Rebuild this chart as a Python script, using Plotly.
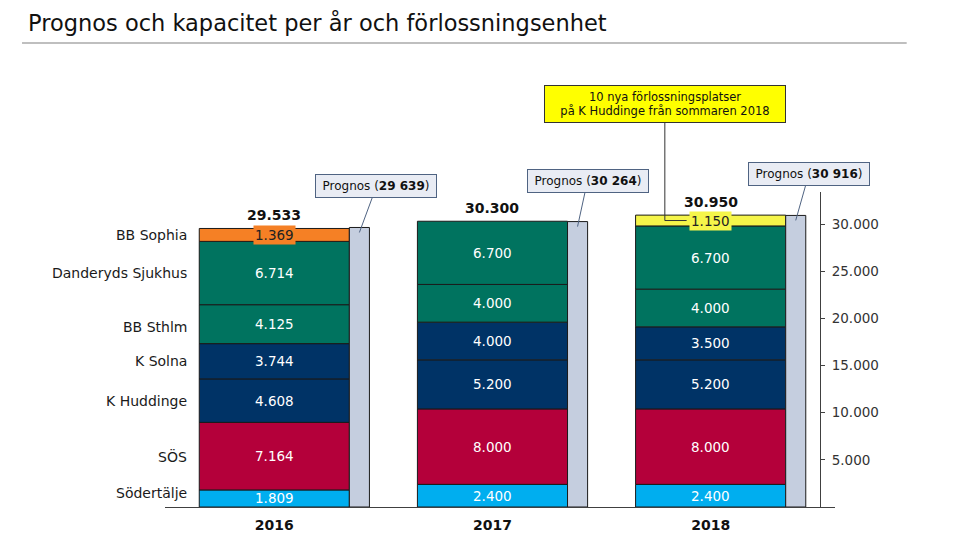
import plotly.graph_objects as go

# ---------------- data ----------------
years = ["2016", "2017", "2018"]
unit_names = ["Södertälje", "SÖS", "K Huddinge", "K Solna", "BB Sthlm",
              "Danderyds Sjukhus", "BB Sophia", "Nya platser"]
sodertalje = [1809, 2400, 2400]
sos = [7164, 8000, 8000]
k_huddinge = [4608, 5200, 5200]
k_solna = [3744, 4000, 3500]
bb_sthlm = [4125, 4000, 4000]
danderyd = [6714, 6700, 6700]
bb_sophia = [1369, None, None]
nya_platser = [None, None, 1150]
prognos = [29639, 30264, 30916]
y_ticks = [5000, 10000, 15000, 20000, 25000, 30000]
callout_text = "10 nya förlossningsplatser<br>på K Huddinge från sommaren 2018"
title_text = "Prognos och kapacitet per år och förlossningsenhet"

series = [sodertalje, sos, k_huddinge, k_solna, bb_sthlm, danderyd, bb_sophia, nya_platser]

# ---------------- style ----------------
colors = ["#00AEEF", "#B4003A", "#003366", "#003366", "#00735F", "#00735F", "#F58025", "#F5F54A"]
label_bg = [None, None, None, None, None, None, "#F58025", "#F5F54A"]
label_col = ["white"] * 6 + ["#222222", "#222222"]
left_label_shift = [5, 0, 0, 0, -3, 0, 0, 0]
FONT = "DejaVu Sans"
OUTLINE = "#1a1a1a"
MAIN_W = 0.688
PROG_W = 0.092
x_pos = list(range(len(years)))
prog_ax = [17, 10, 13]
W, H = 959, 542   # page body adds an 8px margin


def fmt_dot(v):
    return f"{v:,}".replace(",", ".")


def fmt_space(v):
    return f"{v:,}".replace(",", " ")


fig = go.Figure()
annotations = []

base = [0] * len(years)
for k, vals in enumerate(series):
    xs, ys, bs = [], [], []
    for i, v in enumerate(vals):
        if v is None:
            continue
        xs.append(x_pos[i])
        ys.append(v)
        bs.append(base[i])
        a = dict(x=x_pos[i], y=base[i] + v / 2, xref="x", yref="y",
                 text=fmt_dot(v), showarrow=False,
                 font=dict(family=FONT, size=13.5, color=label_col[k]))
        if label_bg[k]:
            a.update(bgcolor=label_bg[k], borderpad=1)
        annotations.append(a)
        # left category labels, aligned with the first year's segments
        if i == 0:
            annotations.append(dict(
                x=x_pos[0] - MAIN_W / 2, y=base[i] + v / 2, xref="x", yref="y",
                text=unit_names[k], showarrow=False, xanchor="right", xshift=-10,
                yshift=left_label_shift[k],
                font=dict(family=FONT, size=14, color="#1a1a1a")))
        base[i] += v
    fig.add_trace(go.Bar(
        x=xs, y=ys, base=bs, width=MAIN_W, offset=-MAIN_W / 2,
        marker=dict(color=colors[k], line=dict(color=OUTLINE, width=1)),
        name=unit_names[k], hoverinfo="skip"))

totals = base

# prognos bars
fig.add_trace(go.Bar(
    x=x_pos, y=prognos, width=PROG_W, offset=MAIN_W / 2,
    marker=dict(color="#C5CEDF", line=dict(color=OUTLINE, width=1)),
    name="Prognos", hoverinfo="skip"))

# totals above bars
for i, t in enumerate(totals):
    annotations.append(dict(
        x=x_pos[i], y=t, xref="x", yref="y", text=f"<b>{fmt_dot(t)}</b>",
        showarrow=False, yanchor="bottom", yshift=3,
        font=dict(family=FONT, size=14, color="#111111")))

# prognos callouts
for i, p in enumerate(prognos):
    annotations.append(dict(
        x=x_pos[i] + MAIN_W / 2 + PROG_W / 2, y=p, xref="x", yref="y", yshift=-5,
        text=f"Prognos (<b>{fmt_space(p)}</b>)", showarrow=True, arrowhead=0,
        arrowwidth=1, arrowcolor="#4F6382", ax=prog_ax[i], ay=-46,
        bgcolor="#E9ECF4", bordercolor="#4F6382", borderwidth=1, borderpad=2,
        width=116, height=18,
        font=dict(family=FONT, size=12, color="#111111")))

# yellow callout for the new places in 2018
yel_mid = totals[2] - nya_platser[2] / 2
annotations.append(dict(
    x=x_pos[2] - 0.21, y=yel_mid, xref="x", yref="y", text=callout_text,
    showarrow=True, arrowhead=0, arrowwidth=1, arrowcolor="#333333",
    ax=0, ay=-117, bgcolor="#FFFF00", bordercolor="#333333", borderwidth=1,
    borderpad=2, width=236, height=32,
    font=dict(family=FONT, size=11.5, color="#111111")))

shapes = [
    dict(type="line", xref="x", yref="y", x0=x_pos[2] - 0.21, x1=x_pos[2] - 0.11,
         y0=yel_mid, y1=yel_mid, line=dict(color="#333333", width=1)),
    dict(type="line", xref="paper", yref="paper", x0=-0.2134, x1=1.107,
         y0=1.473, y1=1.473, line=dict(color="#BFBFBF", width=2)),
]

fig.update_layout(
    width=W, height=H,
    margin=dict(l=157, r=132, t=184, b=43),
    barmode="overlay",
    showlegend=False,
    plot_bgcolor="white", paper_bgcolor="white",
    separators=",.",
    font=dict(family=FONT, color="#222222"),
    title=dict(text=title_text, xref="container", yref="container",
               x=20 / W, xanchor="left", y=1 - 15 / H, yanchor="middle",
               font=dict(family=FONT, size=22.5, color="#111111")),
    xaxis=dict(range=[-0.501, 2.57], tickvals=x_pos, ticktext=years,
               showline=True, linecolor="#404040", linewidth=1,
               showgrid=False, zeroline=False, ticks="", ticklabelstandoff=5,
               tickfont=dict(family=FONT, size=14, color="#111111", weight="bold")),
    yaxis=dict(range=[0, 33400], tickvals=y_ticks, tickformat=",",
               side="right", anchor="free", position=(820 - 165) / 670,
               showline=True, linecolor="#404040", linewidth=1,
               ticks="outside", ticklen=4, tickcolor="#404040",
               ticklabelstandoff=4,
               showgrid=False, zeroline=False,
               tickfont=dict(family=FONT, size=13.5, color="#333333")),
    annotations=annotations,
    shapes=shapes,
    hovermode=False,
)

fig.write_html("out.html")
